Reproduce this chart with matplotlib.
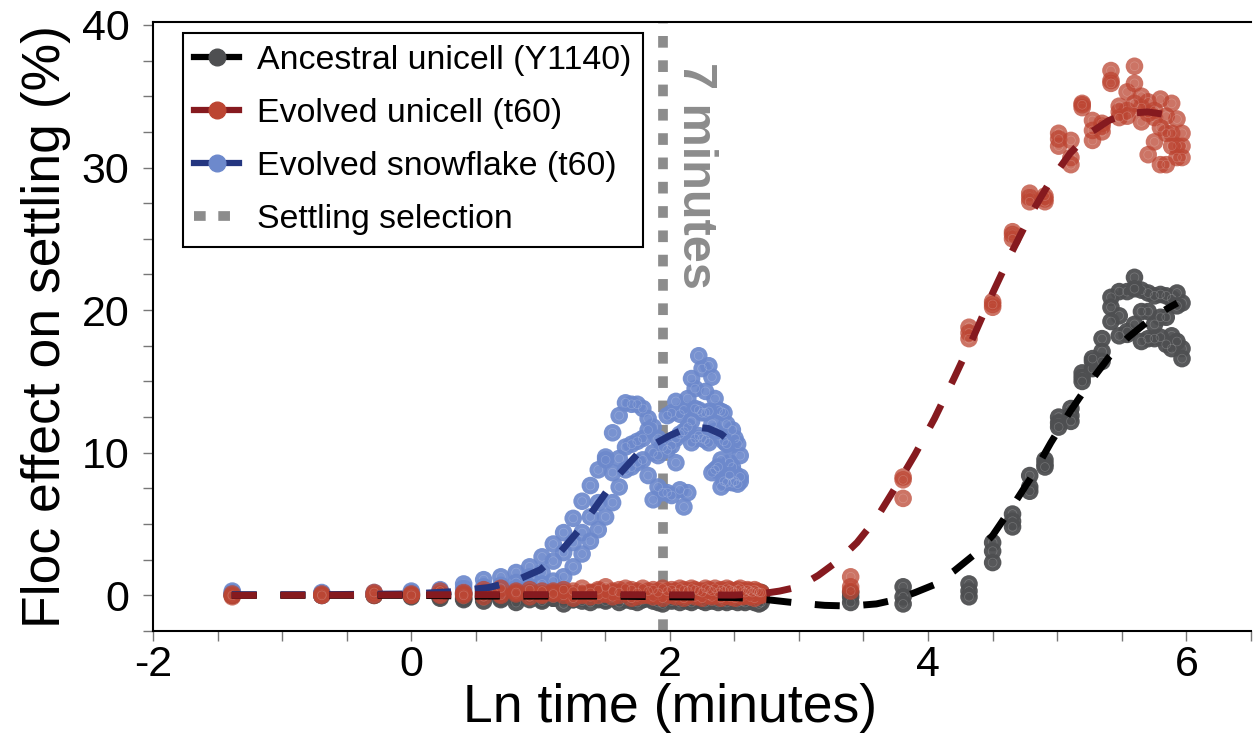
import numpy as np
import matplotlib
matplotlib.use("Agg")
import matplotlib.pyplot as plt
from matplotlib.lines import Line2D
from matplotlib.ticker import MultipleLocator

# ---------------- data ----------------
# ln(time in minutes), early sampling every 0.25 min up to 15 min
early_ln_t = [-1.386, -0.693, -0.288, 0.000, 0.223, 0.405, 0.560, 0.693, 0.811, 0.916,
              1.012, 1.099, 1.179, 1.253, 1.322, 1.386, 1.447, 1.504, 1.558, 1.609,
              1.658, 1.705, 1.749, 1.792, 1.833, 1.872, 1.910, 1.946, 1.981, 2.015,
              2.048, 2.079, 2.110, 2.140, 2.169, 2.197, 2.225, 2.251, 2.277, 2.303,
              2.327, 2.351, 2.375, 2.398, 2.420, 2.442, 2.464, 2.485, 2.506, 2.526,
              2.546, 2.565, 2.584, 2.603, 2.621, 2.639, 2.657, 2.674, 2.691, 2.708]
# late sampling (30, 45, 75 ... 390 min)
late_ln_t = [3.401, 3.807, 4.317, 4.500, 4.654, 4.787, 4.905, 5.011, 5.106, 5.193,
             5.273, 5.347, 5.416, 5.480, 5.541, 5.598, 5.652, 5.704, 5.753, 5.799,
             5.844, 5.886, 5.927, 5.966]
snow_n = 51  # snowflake measured up to ~12.75 min

# Ancestral unicell (Y1140) replicates
anc_early_y1 = [0.0, 0.1, 0.0, 0.1, 0.0, 0.1, 0.0, -0.1, 0.1, 0.0, -0.1, 0.0, 0.1, -0.1, 0.0,
                0.1, 0.0, -0.1, 0.0, 0.1, -0.1, 0.0, 0.1, 0.0, -0.1, 0.0, 0.1, -0.1, 0.0, 0.1,
                0.0, -0.1, 0.0, 0.1, -0.1, 0.0, 0.1, 0.0, -0.1, 0.0, 0.1, 0.0, -0.1, 0.0, 0.1,
                -0.1, 0.0, 0.1, 0.0, -0.1, 0.0, 0.1, 0.0, -0.1, 0.0, 0.1, -0.1, 0.0, 0.1, 0.2]
anc_early_y2 = [0.0, 0.0, 0.1, 0.0, -0.1, -0.2, -0.1, -0.3, -0.2, -0.1, -0.3, -0.2, -0.1, -0.3, -0.2,
                -0.1, -0.2, -0.3, -0.1, -0.2, -0.3, -0.1, -0.2, -0.3, -0.2, -0.1, -0.3, -0.2, -0.1, -0.3,
                -0.2, -0.1, -0.3, -0.2, -0.1, -0.2, -0.3, -0.1, -0.2, -0.3, -0.2, -0.1, -0.3, -0.2, -0.1,
                -0.3, -0.2, -0.1, -0.3, -0.2, -0.1, -0.2, -0.3, -0.1, -0.2, -0.3, -0.2, -0.1, -0.2, -0.1]
anc_early_y3 = [0.1, 0.0, 0.0, -0.1, -0.2, -0.3, -0.4, -0.2, -0.5, -0.3, -0.4, -0.2, -0.6, -0.3, -0.4,
                -0.5, -0.3, -0.4, -0.2, -0.5, -0.3, -0.4, -0.5, -0.3, -0.2, -0.4, -0.5, -0.6, -0.3, -0.4,
                -0.2, -0.5, -0.3, -0.4, -0.5, -0.3, -0.2, -0.4, -0.5, -0.3, -0.4, -0.2, -0.5, -0.3, -0.4,
                -0.5, -0.3, -0.4, -0.2, -0.5, -0.3, -0.4, -0.5, -0.3, -0.4, -0.2, -0.5, -0.4, -0.6, -0.5]
anc_late_y1 = [0.2, 0.6, 0.8, 3.7, 5.7, 8.4, 9.5, 12.5, 13.1, 15.6, 16.4, 18.0, 20.9, 21.3, 21.3,
               22.3, 21.4, 21.2, 21.0, 21.1, 21.0, 20.8, 21.2, 20.5]
anc_late_y2 = [-0.1, -0.1, 0.3, 3.1, 5.2, 7.6, 9.2, 12.1, 12.6, 15.3, 15.9, 17.1, 20.2, 19.6, 18.3,
               21.5, 19.9, 19.9, 19.0, 19.5, 19.5, 18.2, 20.3, 17.3]
anc_late_y3 = [-0.5, -0.6, -0.1, 2.3, 4.8, 7.3, 9.0, 11.8, 12.2, 15.0, 16.6, 16.4, 19.2, 18.2, 18.5,
               19.0, 17.8, 18.0, 18.0, 18.1, 17.6, 17.3, 17.8, 16.6]

# Evolved unicell (t60) replicates
evo_early_y1 = [0.1, 0.0, 0.1, 0.0, 0.1, 0.2, 0.2, 0.1, 0.3, 0.2, 0.1, 0.3, 0.2, 0.1, 0.0,
                0.2, 0.3, 0.1, 0.2, 0.4, 0.2, 0.1, 0.3, 0.2, 0.0, 0.1, 0.3, 0.2, 0.1, 0.2,
                0.3, 0.1, 0.0, 0.2, 0.3, 0.2, 0.1, 0.3, 0.2, 0.0, 0.1, 0.2, 0.3, 0.1, 0.2,
                0.0, 0.1, 0.2, 0.3, 0.1, 0.0, 0.2, 0.1, 0.3, 0.2, 0.0, 0.1, 0.2, 0.0, 0.1]
evo_early_y2 = [-0.1, 0.1, 0.0, 0.1, 0.0, 0.1, -0.1, 0.0, 0.1, -0.1, 0.0, 0.2, 0.0, -0.2, 0.1,
                -0.1, 0.0, 0.1, -0.1, 0.0, 0.2, -0.2, -0.1, 0.0, 0.1, -0.1, 0.0, -0.2, 0.1, 0.0,
                -0.1, 0.1, -0.2, 0.0, 0.1, -0.1, 0.0, -0.2, 0.1, 0.0, -0.1, 0.0, 0.1, -0.2, 0.0,
                0.1, -0.1, 0.0, -0.2, 0.1, 0.0, -0.1, 0.0, 0.1, -0.1, 0.0, -0.2, 0.0, 0.1, 0.0]
evo_early_y3 = [0.0, 0.0, 0.2, 0.0, 0.3, 0.0, 0.4, 0.5, 0.2, 0.4, 0.3, 0.1, 0.4, 0.3, 0.5,
                0.2, 0.4, 0.6, 0.3, 0.2, 0.5, 0.4, 0.2, 0.5, 0.3, 0.4, 0.2, 0.5, 0.3, 0.4,
                0.2, 0.5, 0.4, 0.3, 0.5, 0.4, 0.3, 0.2, 0.5, 0.4, 0.3, 0.5, 0.2, 0.4, 0.3,
                0.5, 0.4, 0.3, 0.2, 0.4, 0.5, 0.3, 0.2, 0.4, 0.3, 0.2, 0.4, 0.3, 0.2, 0.2]
evo_late_y1 = [1.3, 8.3, 18.8, 20.6, 25.5, 28.2, 27.8, 32.4, 31.9, 34.5, 33.3, 32.9, 36.8, 33.9, 35.3,
               37.1, 35.0, 34.6, 33.5, 34.8, 33.6, 34.5, 33.4, 32.4]
evo_late_y2 = [0.6, 8.1, 18.4, 20.2, 25.3, 27.9, 27.6, 31.5, 30.7, 34.2, 31.9, 32.5, 36.1, 34.3, 34.0,
               35.9, 33.2, 30.9, 31.8, 32.8, 32.4, 32.4, 31.5, 31.5]
evo_late_y3 = [0.3, 6.8, 18.0, 20.4, 25.0, 27.6, 28.0, 32.0, 30.2, 34.4, 32.6, 33.1, 35.9, 33.5, 33.6,
               34.5, 34.2, 33.8, 34.0, 30.2, 30.2, 31.5, 30.7, 30.7]

# Evolved snowflake (t60) replicates
snow_y1 = [0.2, 0.1, 0.2, 0.3, 0.4, 0.8, 1.1, 1.3, 1.6, 2.0, 2.7, 3.6, 4.4, 5.4, 6.6, 7.7, 8.8,
           9.7, 11.4, 12.6, 13.5, 13.4, 13.4, 13.1, 12.4, 11.8, 11.0, 10.6, 12.6, 12.8, 13.6,
           12.7, 13.0, 13.8, 15.2, 14.5, 16.8, 15.9, 14.3, 16.1, 15.3, 13.8, 13.0, 12.9, 12.8,
           12.0, 10.5, 11.6, 11.0, 10.6, 9.8]
snow_y2 = [0.3, 0.2, 0.1, 0.2, 0.3, 0.5, 0.6, 0.7, 0.9, 1.3, 1.6, 2.4, 3.0, 3.7, 4.4, 5.5, 6.5,
           9.5, 8.6, 9.6, 10.4, 10.6, 10.8, 11.0, 11.6, 10.0, 9.8, 10.4, 10.2, 10.5, 11.0,
           11.3, 11.5, 11.8, 12.2, 13.1, 13.0, 12.8, 12.8, 12.9, 12.0, 11.5, 11.2, 9.5, 10.8,
           10.6, 9.3, 9.0, 8.5, 8.2, 8.0]
snow_y3 = [0.1, 0.0, 0.1, 0.1, 0.1, 0.2, 0.3, 0.4, 0.5, 0.6, 0.8, 1.0, 1.3, 2.0, 2.9, 3.8, 4.6,
           5.5, 6.5, 7.6, 8.8, 9.0, 9.3, 9.5, 8.4, 6.7, 7.6, 7.2, 7.2, 7.0, 9.3,
           7.4, 6.2, 7.2, 10.7, 11.0, 11.2, 11.0, 10.9, 10.7, 8.6, 8.8, 9.0, 7.6, 8.0,
           7.9, 8.4, 7.9, 8.0, 7.8, 8.3]

# smoothed fits
anc_fit_x = [-1.39, -0.69, 0.0, 0.5, 1.0, 1.5, 2.0, 2.5, 2.75, 3.0, 3.2, 3.4, 3.6, 3.75, 3.9,
             4.05, 4.2, 4.35, 4.5, 4.65, 4.8, 4.95, 5.1, 5.25, 5.4, 5.55, 5.7, 5.85, 5.93]
anc_fit_y = [0.0, 0.0, 0.0, -0.05, -0.05, -0.05, -0.1, -0.15, -0.3, -0.55, -0.7, -0.75, -0.6, -0.3, 0.2,
             0.75, 1.7, 2.8, 4.2, 6.2, 8.3, 10.7, 12.9, 14.9, 16.7, 18.1, 19.2, 20.1, 20.5]
evo_fit_x = [-1.39, -0.5, 0.5, 1.5, 2.5, 2.7, 2.85, 3.0, 3.15, 3.3, 3.45, 3.6, 3.75, 3.9, 4.05,
             4.2, 4.35, 4.5, 4.65, 4.8, 4.95, 5.1, 5.25, 5.4, 5.55, 5.7, 5.85, 5.93]
evo_fit_y = [0.0, 0.02, 0.05, 0.05, 0.02, 0.1, 0.3, 0.6, 1.4, 2.4, 3.7, 5.4, 7.6, 9.9, 12.4,
             15.2, 18.1, 21.2, 24.1, 26.8, 29.1, 31.0, 32.4, 33.3, 33.8, 33.9, 33.7, 33.5]
snow_fit_x = [-1.39, -0.69, 0.0, 0.3, 0.6, 0.8, 1.0, 1.15, 1.3, 1.45, 1.6, 1.75, 1.9, 2.0, 2.1,
              2.2, 2.3, 2.4, 2.48, 2.55]
snow_fit_y = [0.05, 0.05, 0.1, 0.25, 0.55, 1.0, 1.8, 3.0, 4.6, 6.5, 8.4, 9.9, 10.7, 11.2, 11.6,
              11.8, 11.7, 11.3, 10.7, 10.0]

selection_minutes = 7

labels = ["Ancestral unicell (Y1140)", "Evolved unicell (t60)",
          "Evolved snowflake (t60)", "Settling selection"]

# ---------------- style ----------------
anc_pt, anc_ln = "#4e4f51", "#000000"
evo_pt, evo_ln = "#bc4532", "#861a1f"
snow_pt, snow_ln = "#6d89cc", "#243680"
sel_col = "#8c8c8c"

plt.rcParams["font.family"] = ["Liberation Sans", "DejaVu Sans"]
plt.rcParams["axes.unicode_minus"] = False

fig = plt.figure(figsize=(12.53, 7.45), dpi=100)
ax = fig.add_axes([0.1221, 0.1530, 0.8763, 0.8174])

sel_x = np.log(selection_minutes)
ax.axvline(sel_x, color=sel_col, lw=7.0, linestyle=(0, (1.2, 1.3)),
           dash_capstyle="butt", zorder=1)


def draw_points(x, ys, color, alpha, z):
    for y in ys:
        ax.scatter(x, y, s=160, color=color, alpha=alpha, edgecolors="none", zorder=z)
        ax.scatter(x, y, s=40, facecolors="none", edgecolors="white",
                   linewidths=0.5, alpha=0.2, zorder=z)


uni_x = early_ln_t + late_ln_t
snow_x = early_ln_t[:snow_n]
draw_points(uni_x, [anc_early_y1 + anc_late_y1, anc_early_y2 + anc_late_y2,
                    anc_early_y3 + anc_late_y3], anc_pt, 0.95, 2)
draw_points(snow_x, [snow_y1, snow_y2, snow_y3], snow_pt, 0.92, 3)
draw_points(uni_x, [evo_early_y1 + evo_late_y1, evo_early_y2 + evo_late_y2,
                    evo_early_y3 + evo_late_y3], evo_pt, 0.75, 4)

dash = (3.6, 3.4)
ax.plot(snow_fit_x, snow_fit_y, color=snow_ln, lw=5, dashes=dash, dash_capstyle="butt", zorder=5)
ax.plot(anc_fit_x, anc_fit_y, color=anc_ln, lw=5, dashes=dash, dash_capstyle="butt", zorder=6)
ax.plot(evo_fit_x, evo_fit_y, color=evo_ln, lw=5, dashes=dash, dash_capstyle="butt", zorder=7)

ax.text(2.20, 37.4, "7 minutes", rotation=270, ha="center", va="top",
        fontsize=35, fontweight="bold", color=sel_col, zorder=8)

ax.set_xlim(-2, 6.5)
ax.set_ylim(-2.5, 40.2)
ax.xaxis.set_major_locator(MultipleLocator(2))
ax.xaxis.set_minor_locator(MultipleLocator(0.5))
ax.yaxis.set_major_locator(MultipleLocator(10))
ax.yaxis.set_minor_locator(MultipleLocator(2.5))
ax.tick_params(which="both", direction="out", length=7, width=1, color="#777777")
ax.tick_params(axis="x", labelsize=31, pad=3)
ax.tick_params(axis="y", labelsize=31, pad=10)

ax.spines["right"].set_visible(False)
for s in ("left", "bottom", "top"):
    ax.spines[s].set_linewidth(1.5)
    ax.spines[s].set_color("black")

ax.set_xlabel("Ln time (minutes)", fontsize=38.5)
ax.set_ylabel("Floc effect on settling (%)", fontsize=38.5)
ax.xaxis.set_label_coords(0.471, -0.085)
ax.yaxis.set_label_coords(-0.075, 0.5)

handles = [
    Line2D([], [], color=anc_ln, lw=4.5, marker="o", markersize=12,
           markerfacecolor=anc_pt, markeredgecolor=anc_pt),
    Line2D([], [], color=evo_ln, lw=4.5, marker="o", markersize=12,
           markerfacecolor=evo_pt, markeredgecolor=evo_pt),
    Line2D([], [], color=snow_ln, lw=4.5, marker="o", markersize=12,
           markerfacecolor=snow_pt, markeredgecolor=snow_pt),
    Line2D([], [], color=sel_col, lw=7, linestyle=(0, (1.2, 1.3)), dash_capstyle="butt"),
]
leg = ax.legend(handles, labels, loc="upper left", bbox_to_anchor=(0.027, 0.982),
                borderaxespad=0, fontsize=24.4, frameon=True, fancybox=False,
                edgecolor="black", framealpha=1, handlelength=1.3, handletextpad=0.55,
                labelspacing=0.65, borderpad=0.35)
leg.get_frame().set_linewidth(1.5)
leg.set_zorder(10)

fig.savefig("out.png", dpi=100)
